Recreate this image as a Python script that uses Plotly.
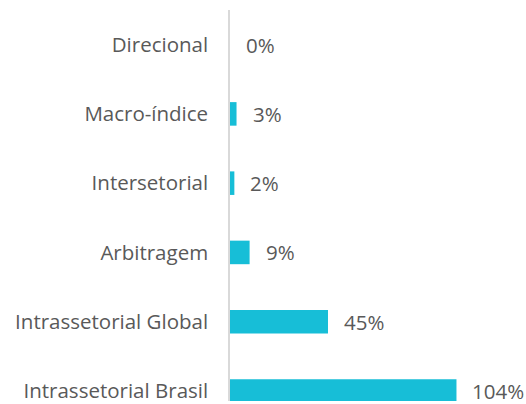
import plotly.graph_objects as go

# Strategy categories and their values (%)
categories = ["Direcional", "Macro-índice", "Intersetorial", "Arbitragem",
              "Intrassetorial Global", "Intrassetorial Brasil"]
values = [0, 3, 2, 9, 45, 104]
labels = [f"{v}%" for v in values]

bar_color = "#17BED7"
text_color = "#595959"
font_family = "'Open Sans', sans-serif"
font_size = 20.5

fig = go.Figure()
fig.add_trace(go.Bar(
    x=values,
    y=categories,
    orientation="h",
    marker=dict(color=bar_color, line=dict(width=0)),
    width=0.34,
    hoverinfo="skip",
))

# Value labels placed just to the right of each bar
for cat, v, lab in zip(categories, values, labels):
    fig.add_annotation(
        x=v, y=cat, text=lab, showarrow=False,
        xanchor="left", yanchor="middle", xshift=14,
        font=dict(family=font_family, size=font_size, color=text_color),
    )

fig.update_layout(
    width=526, height=404,
    margin=dict(l=230, r=14, t=10, b=0),
    paper_bgcolor="white", plot_bgcolor="white",
    showlegend=False,
    font=dict(family=font_family, size=font_size, color=text_color),
    xaxis=dict(range=[0, 129.5], visible=False, fixedrange=True),
    yaxis=dict(
        type="category",
        categoryorder="array", categoryarray=categories,
        range=[5.145, -0.5],
        showline=True, linecolor="#d9d9d9", linewidth=1.5,
        showgrid=False, zeroline=False,
        ticks="", ticklabelstandoff=16,
        tickfont=dict(family=font_family, size=font_size, color=text_color),
    ),
)

fig.write_html("out.html")
